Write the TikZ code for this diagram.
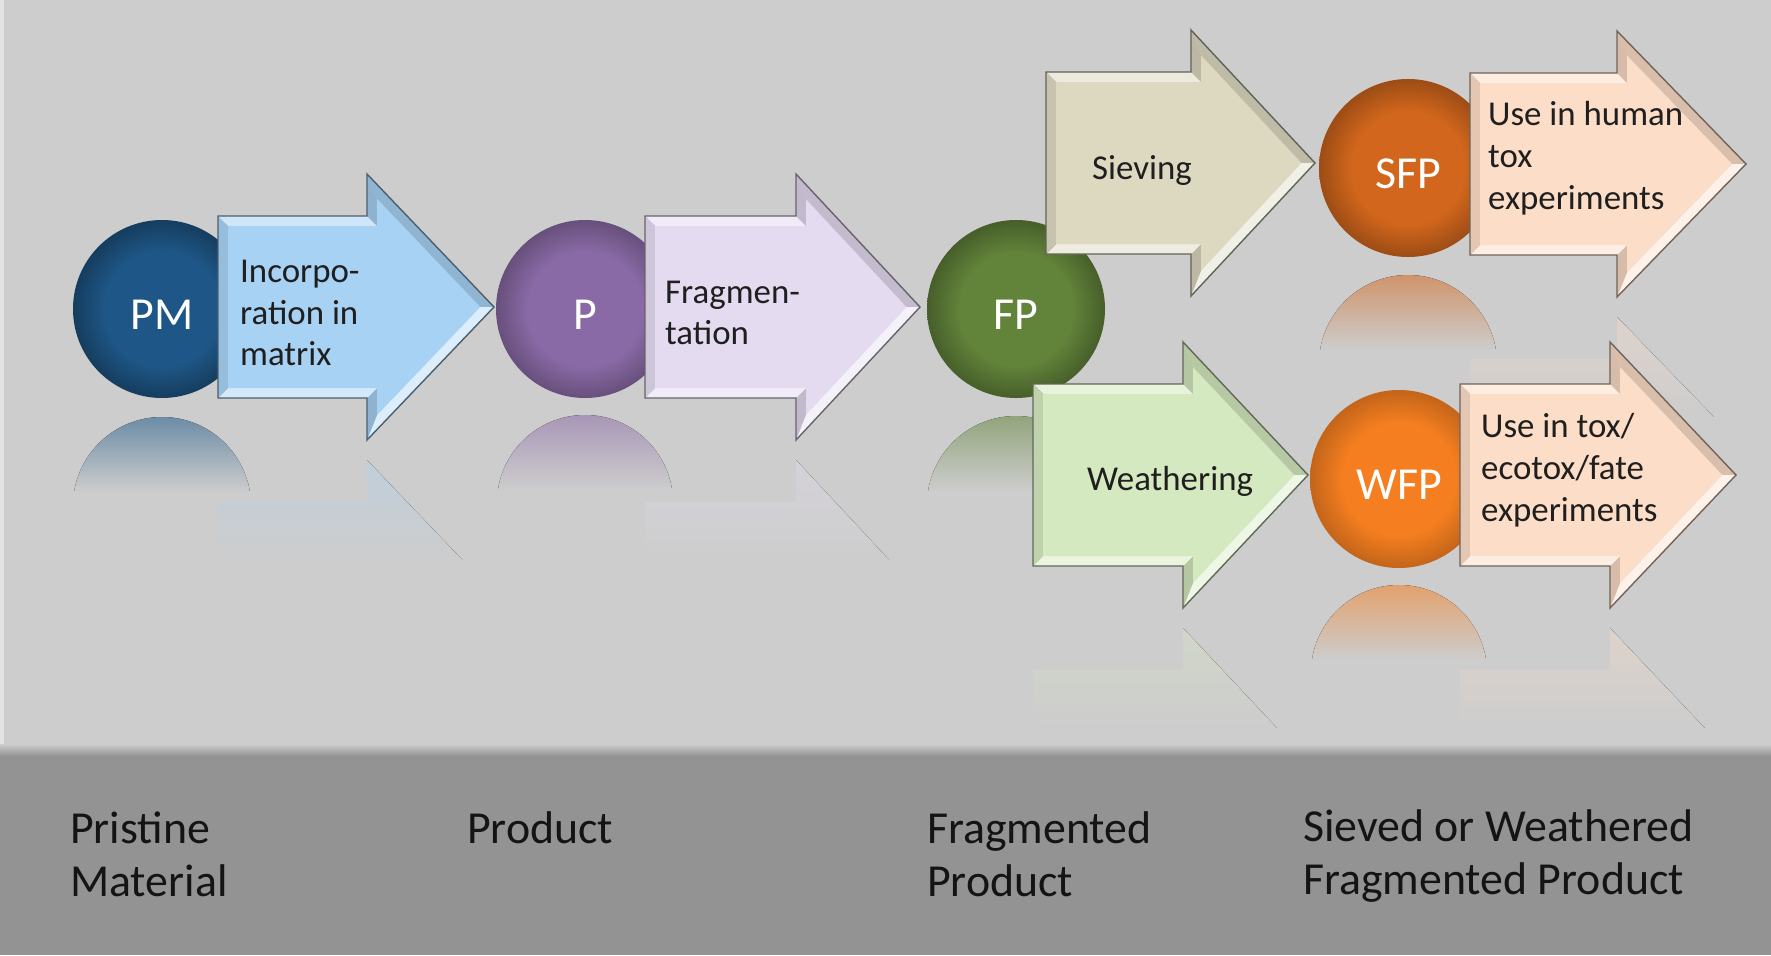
\documentclass[tikz,border=0pt]{standalone}
\usepackage{fontspec}
\setmainfont{Carlito}
\begin{document}
% geometry of every arrow: body half height, head half height, bevel depth
\def\arrh{91}
\def\arrH{133}
\def\bvd{10}
\definecolor{bgc}{HTML}{CDCDCD}
\definecolor{band}{HTML}{939393}
\definecolor{edgestrip}{HTML}{E3E3E3}
\definecolor{pmcol}{HTML}{1E5787}
\definecolor{pcol}{HTML}{8A6AA6}
\definecolor{fpcol}{HTML}{62833A}
\definecolor{sfpcol}{HTML}{D1661C}
\definecolor{wfpcol}{HTML}{F47E20}
\definecolor{incol}{HTML}{A7D2F4}
\definecolor{fragcol}{HTML}{E4DBF0}
\definecolor{sievecol}{HTML}{DDD9C1}
\definecolor{weathcol}{HTML}{D5E9C0}
\definecolor{usecol}{HTML}{FCDDC7}
\colorlet{discin}{pmcol}
\colorlet{discout}{black}
\pgfdeclareradialshading[discin,discout]{discshade}{\pgfpoint{0bp}{0bp}}{%
  color(0bp)=(discin); color(16bp)=(discin); color(25bp)=(discout); color(50bp)=(discout)}
% outline of an arrow with left end #1, shoulder #2, tip #3, centre line #4
\newcommand\arrowpath[4]{(#1,#4-\arrh)--(#2,#4-\arrh)--(#2,#4-\arrH)--(#3,#4)--(#2,#4+\arrH)--(#2,#4+\arrh)--(#1,#4+\arrh)--cycle}
% bevelled block arrow
\newcommand\bevelarrow[5]{%
  \pgfmathsetmacro\bvk{\arrH/(#3-#2)}%
  \pgfmathsetmacro\bvm{sqrt(1+\bvk*\bvk)}%
  \pgfmathsetmacro\bvUy{#4-\bvk*(#3-#2-\bvd)+\bvd*\bvm}%
  \pgfmathsetmacro\bvLy{#4+\bvk*(#3-#2-\bvd)-\bvd*\bvm}%
  \pgfmathsetmacro\bvTx{#3-\bvd*\bvm/\bvk}%
  \coordinate (oA) at (#1,#4-\arrh);
  \coordinate (oB) at (#2,#4-\arrh);
  \coordinate (oC) at (#2,#4-\arrH);
  \coordinate (oD) at (#3,#4);
  \coordinate (oE) at (#2,#4+\arrH);
  \coordinate (oF) at (#2,#4+\arrh);
  \coordinate (oG) at (#1,#4+\arrh);
  \coordinate (iA) at (#1+\bvd,#4-\arrh+\bvd);
  \coordinate (iB) at (#2+\bvd,#4-\arrh+\bvd);
  \coordinate (iC) at (#2+\bvd,\bvUy);
  \coordinate (iD) at (\bvTx,#4);
  \coordinate (iE) at (#2+\bvd,\bvLy);
  \coordinate (iF) at (#2+\bvd,#4+\arrh-\bvd);
  \coordinate (iG) at (#1+\bvd,#4+\arrh-\bvd);
  \fill[#5!55!white] (oA)--(oB)--(iB)--(iA)--cycle;
  \fill[#5!85!black] (oB)--(oC)--(iC)--(iB)--cycle;
  \fill[#5!86!black] (oC)--(oD)--(iD)--(iC)--cycle;
  \fill[#5!40!white] (oD)--(oE)--(iE)--(iD)--cycle;
  \fill[#5!85!black] (oE)--(oF)--(iF)--(iE)--cycle;
  \fill[#5!50!white] (oF)--(oG)--(iG)--(iF)--cycle;
  \fill[#5!90!black] (oG)--(oA)--(iA)--(iG)--cycle;
  \fill[#5] (iA)--(iB)--(iC)--(iD)--(iE)--(iF)--(iG)--cycle;
  \draw[arrowline, draw=#5!45!black] \arrowpath{#1}{#2}{#3}{#4};
}
% faint mirror image below an arrow
\newcommand\arrowrefl[5]{%
  \begin{scope}
    \clip \arrowpath{#1}{#2}{#3}{#4+2*\arrH+20};
    \fill[top color=#5!35!bgc, bottom color=bgc] (#1-2,#4+\arrH+20) rectangle (#3+2,#4+\arrH+120);
  \end{scope}}
% faint mirror image below a disc of centre (#1,#2), radius #3
\newcommand\discrefl[4]{%
  \begin{scope}
    \clip (#1,#2+2*#3+20) circle[radius=#3];
    \fill[top color=#4!55!bgc, bottom color=bgc] (#1-#3,#2+#3+20) rectangle (#1+#3,#2+#3+95);
  \end{scope}}
\begin{tikzpicture}[x=1bp,y=-1bp,
  arrowline/.style={line width=1.4bp, line join=miter},
  disc/.style 2 args={circle, minimum size=178bp, inner sep=0pt,
    /utils/exec={\colorlet{discin}{#1}\colorlet{discout}{#2}},
    shading=discshade, text=white, text height=40bp, text depth=0bp,
    font=\fontsize{46}{53}\selectfont},
  steptext/.style={anchor=west, align=left, inner sep=0pt, text=black!88,
    font=\fontsize{35}{42}\selectfont},
  stagetext/.style={anchor=base west, align=left, inner sep=0pt, text=black!92,
    font=\fontsize{46}{53}\selectfont}]
\useasboundingbox (0,0) rectangle (1771,955);
% backdrop and lower label band
\fill[bgc] (0,0) rectangle (1771,955);
\fill[edgestrip] (0,0) rectangle (4,752);
\fill[top color=bgc, bottom color=band] (0,744) rectangle (1771,756);
\fill[band] (0,756) rectangle (1771,955);

% reflections
\arrowrefl{218}{367}{494}{307}{incol}
\arrowrefl{645}{796}{920}{307}{fragcol}
\arrowrefl{1470}{1617}{1746}{164}{usecol}
\arrowrefl{1033}{1183}{1308}{475}{weathcol}
\arrowrefl{1460}{1610}{1736}{475}{usecol}
\discrefl{162}{308}{89}{pmcol}
\discrefl{585}{307}{88}{pcol}
\discrefl{1016}{307}{89}{fpcol}
\discrefl{1408}{166}{89}{sfpcol}
\discrefl{1399}{477}{88}{wfpcol}

% pristine material -> product
\node[disc={pmcol}{pmcol!70!black}] (pm) at (162,309) {PM};
\bevelarrow{218}{367}{494}{307}{incol}
\node[steptext] (incorp) at (240,313) {Incorpo-\\ration in\\matrix};

\node[disc={pcol}{pcol!75!black}] (p) at (585,309) {P};
\bevelarrow{645}{796}{920}{307}{fragcol}
\node[steptext] (frag) at (665,313) {Fragmen-\\tation};

% fragmented product splits into two routes
\node[disc={fpcol}{fpcol!72!black}] (fp) at (1016,309) {FP};
\bevelarrow{1046}{1191}{1315}{163}{sievecol}
\node[steptext] (sieve) at (1092,170) {Sieving};
\bevelarrow{1033}{1183}{1308}{475}{weathcol}
\node[steptext] (weath) at (1087,481) {Weathering};

\node[disc={sfpcol}{sfpcol!75!black}] (sfp) at (1408,168) {SFP};
\bevelarrow{1470}{1617}{1746}{164}{usecol}
\node[steptext] (usehuman) at (1488,158) {Use in human\\tox\\experiments};

\node[disc={wfpcol}{wfpcol!80!black}] (wfp) at (1399,479) {WFP};
\bevelarrow{1460}{1610}{1736}{475}{usecol}
\node[steptext] (useeco) at (1481,470) {Use in tox/\\ecotox/fate\\experiments};

% stage captions (base anchor sits on the last line)
\node[stagetext] (lpm) at (70,896) {Pristine\\Material};
\node[stagetext] (lp) at (467,843) {Product};
\node[stagetext] (lfp) at (927,896) {Fragmented\\Product};
\node[stagetext] (lsw) at (1303,894) {Sieved or Weathered\\Fragmented Product};
\end{tikzpicture}
\end{document}
